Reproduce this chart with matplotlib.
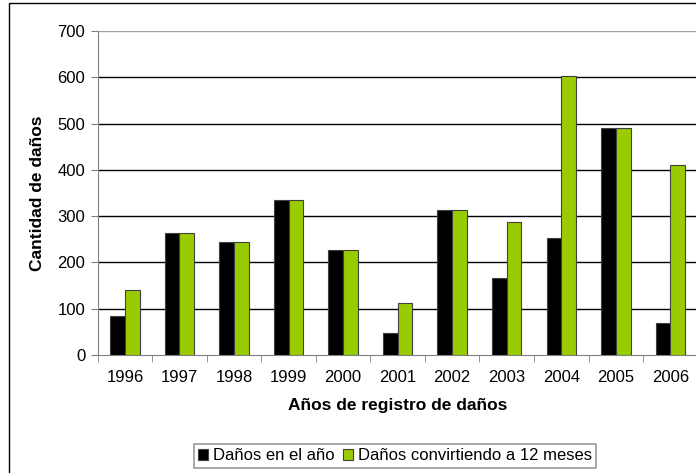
import matplotlib
matplotlib.use("Agg")
import matplotlib.pyplot as plt
import numpy as np
from matplotlib.patches import Rectangle

plt.rcParams["font.family"] = ["Liberation Sans", "DejaVu Sans"]

years = ["1996", "1997", "1998", "1999", "2000", "2001", "2002", "2003", "2004", "2005", "2006"]
danos_anio = [84, 264, 245, 335, 227, 46, 314, 167, 253, 490, 69]
danos_12m = [141, 264, 245, 335, 227, 113, 314, 287, 603, 490, 410]

fig = plt.figure(figsize=(6.96, 4.73), dpi=100)
ax = fig.add_axes([0.1403, 0.250, 0.862, 0.684])

x = np.arange(len(years))
w = 0.27
kw = dict(edgecolor="#404040", linewidth=0.8, zorder=3)
ax.bar(x - w / 2, danos_anio, w, color="black", label="Daños en el año", **kw)
ax.bar(x + w / 2, danos_12m, w, color="#99cc00", label="Daños convirtiendo a 12 meses", **kw)

ax.set_xlim(-0.5, len(years) - 0.5)
ax.set_ylim(0, 700)
ax.set_yticks(range(0, 701, 100))
for v in range(100, 700, 100):
    ax.axhline(v, color="black", linewidth=1, zorder=1)
ax.axhline(700, color="#a0a0a0", linewidth=1, zorder=1)

ax.set_xticks(x)
ax.set_xticklabels(years)
ax.set_xticks(np.arange(-0.5, len(years), 1), minor=True)
ax.tick_params(axis="x", which="major", length=0, pad=11, labelsize=12)
ax.tick_params(axis="x", which="minor", length=5, color="#808080", direction="out")
ax.tick_params(axis="y", length=5, color="#808080", labelsize=12, pad=4)

for s in ("top", "right"):
    ax.spines[s].set_visible(False)
ax.spines["left"].set_color("#808080")
ax.spines["bottom"].set_color("#808080")

ax.set_xlabel("Años de registro de daños", fontsize=12.5, fontweight="bold", labelpad=9)
ax.set_ylabel("Cantidad de daños", fontsize=12.5, fontweight="bold", labelpad=9)

leg = fig.legend(loc="center", bbox_to_anchor=(0.568, 0.036), ncol=2, fontsize=12,
                 frameon=True, fancybox=False, edgecolor="#808080",
                 handlelength=0.6, handleheight=0.6, handletextpad=0.3,
                 columnspacing=0.5, borderpad=0.25)
leg.get_frame().set_linewidth(1.2)

fig.patches.append(Rectangle((9 / 696, -0.1), 1.2, 1.1 - 3 / 473, transform=fig.transFigure,
                             fill=False, edgecolor="black", linewidth=1))

fig.savefig("out.png", dpi=100)
